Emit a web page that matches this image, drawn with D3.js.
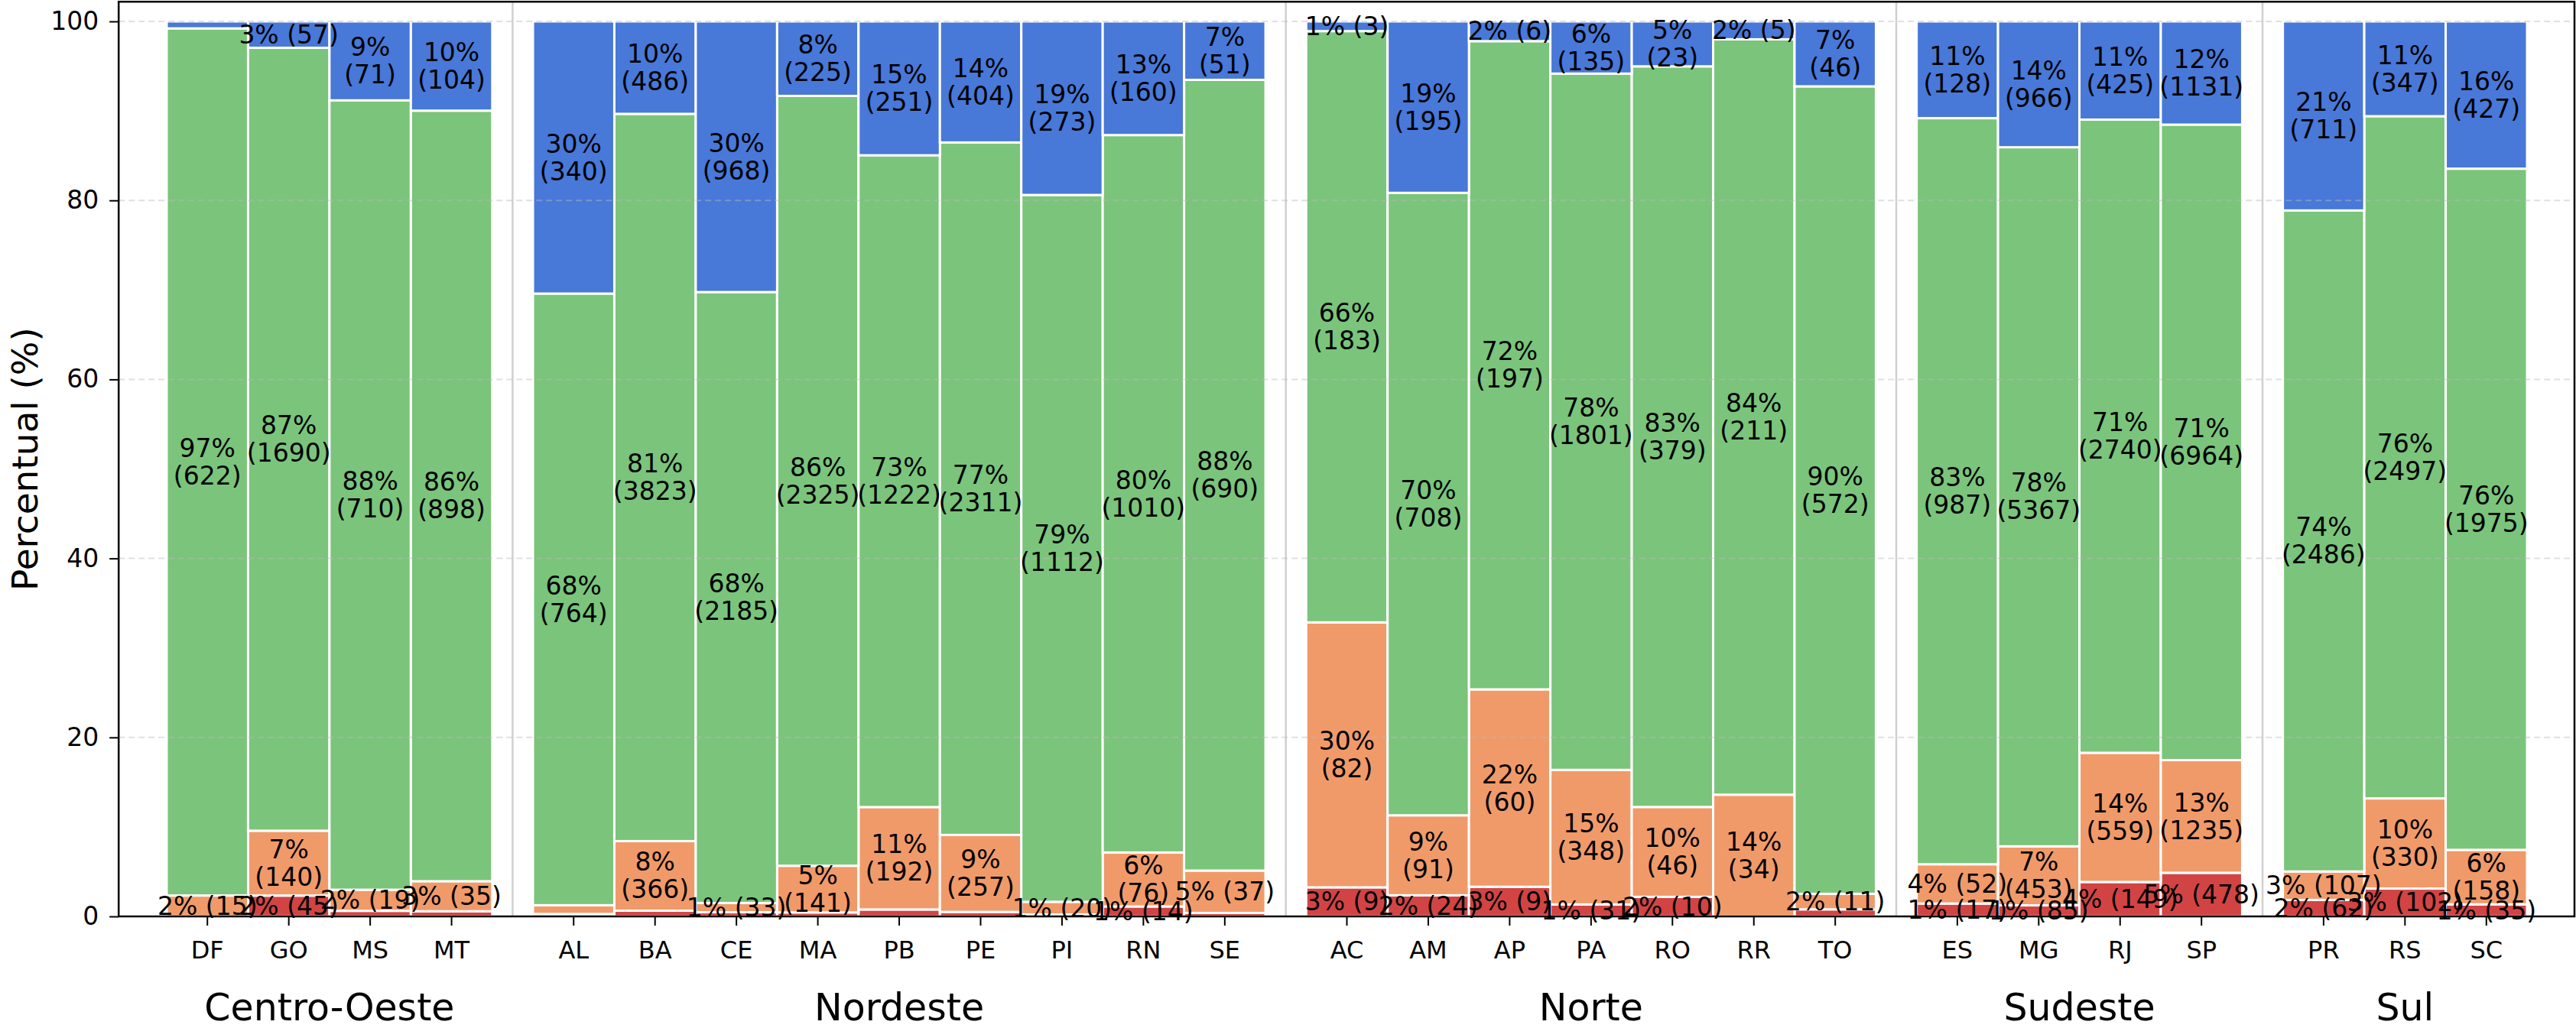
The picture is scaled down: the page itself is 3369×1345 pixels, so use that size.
<!DOCTYPE html>
<html><head><meta charset="utf-8">
<script src="https://cdn.jsdelivr.net/npm/d3@7"></script>
<style>body{margin:0;background:#fff}svg{display:block}</style>
</head><body>
<svg id="chart" width="3369" height="1345"></svg>
<script>
// ---------- data ----------
const regions = ["Centro-Oeste", "Nordeste", "Norte", "Sudeste", "Sul"];
const regionStates = [
  ["DF", "GO", "MS", "MT"],
  ["AL", "BA", "CE", "MA", "PB", "PE", "PI", "RN", "SE"],
  ["AC", "AM", "AP", "PA", "RO", "RR", "TO"],
  ["ES", "MG", "RJ", "SP"],
  ["PR", "RS", "SC"]
];
// counts in state order DF..MT, AL..SE, AC..TO, ES..SP, PR..SC
const redCounts    = [0, 45, 5, 6,   3, 30, 15, 12, 13, 15, 3, 14, 3,   9, 24, 9, 31, 10, 0, 5,   17, 85, 149, 478,   62, 102, 35];
const orangeCounts = [15, 140, 19, 35,   11, 366, 33, 141, 192, 257, 20, 76, 37,   82, 91, 60, 348, 46, 34, 11,   52, 453, 559, 1235,   107, 330, 158];
const greenCounts  = [622, 1690, 710, 898,   764, 3823, 2185, 2325, 1222, 2311, 1112, 1010, 690,   183, 708, 197, 1801, 379, 211, 572,   987, 5367, 2740, 6964,   2486, 2497, 1975];
const blueCounts   = [5, 57, 71, 104,   340, 486, 968, 225, 251, 404, 273, 160, 51,   3, 195, 6, 135, 23, 5, 46,   128, 966, 425, 1131,   711, 347, 427];
const seriesColors = ["#d24444", "#f09a6a", "#7bc47b", "#4878d8"];
const yTicks = [0, 20, 40, 60, 80, 100];
const yLabel = "Percentual (%)";

// ---------- build rows ----------
const series = [redCounts, orangeCounts, greenCounts, blueCounts];
const rows = [];
let k = 0;
regionStates.forEach((sts, g) => {
  sts.forEach(s => {
    const vals = series.map(a => a[k]);
    const total = d3.sum(vals);
    rows.push({state: s, group: g, pos: k + 0.5 * g, vals, total});
    k++;
  });
});

// ---------- scales ----------
const svg = d3.select("#chart");
const x = d3.scaleLinear().domain([0, 29]).range([218, 3305]);
const y = d3.scaleLinear().domain([0, 100]).range([1199, 28]);
const frameL = x(-0.59), frameR = 3367, frameT = y(102.2), frameB = y(0);
const font = "'DejaVu Sans', sans-serif";

// separators between regions
const sepPos = [];
{
  let idx = 0;
  regionStates.forEach((sts, g) => {
    idx += sts.length;
    if (g < regionStates.length - 1) sepPos.push(idx + 0.5 * g + 0.25);
  });
}
svg.append("g").selectAll("line").data(sepPos).join("line")
  .attr("x1", d => x(d)).attr("x2", d => x(d))
  .attr("y1", frameT).attr("y2", frameB)
  .attr("stroke", "#d0d0d0").attr("stroke-width", 2.5);

// stacked segments
const stack = d3.stack().keys([0, 1, 2, 3]).value((d, key) => d.vals[key] / d.total * 100);
const layers = stack(rows);
const segG = svg.append("g");
layers.forEach((layer, si) => {
  segG.append("g").selectAll("rect").data(layer).join("rect")
    .attr("x", d => x(d.data.pos))
    .attr("width", d => x(d.data.pos + 1) - x(d.data.pos))
    .attr("y", d => y(d[1]))
    .attr("height", d => Math.max(0, y(d[0]) - y(d[1])))
    .attr("fill", seriesColors[si])
    .attr("stroke", "#fff").attr("stroke-width", 3);
});

// grid (dashed, over bars)
svg.append("g").selectAll("line").data(yTicks).join("line")
  .attr("x1", frameL).attr("x2", frameR)
  .attr("y1", d => y(d)).attr("y2", d => y(d))
  .attr("stroke", "#bbbbbb").attr("stroke-opacity", 0.45)
  .attr("stroke-width", 2).attr("stroke-dasharray", "8,5");

// labels
const labG = svg.append("g").attr("font-family", font).attr("font-size", 33)
  .attr("text-anchor", "middle").attr("fill", "#000");
layers.forEach((layer, si) => {
  layer.forEach(d => {
    const pct = d[1] - d[0];
    if (pct < 1) return;
    const cnt = d.data.vals[si];
    const cx = x(d.data.pos + 0.5);
    const cy = y((d[0] + d[1]) / 2);
    const p = Math.round(pct) + "%";
    if (pct >= 5) {
      const t = labG.append("text").attr("x", cx).attr("y", cy);
      t.append("tspan").attr("x", cx).attr("dy", -18).attr("dominant-baseline", "central").text(p);
      t.append("tspan").attr("x", cx).attr("dy", 36).attr("dominant-baseline", "central").text("(" + cnt + ")");
    } else {
      labG.append("text").attr("x", cx).attr("y", cy).attr("dominant-baseline", "central")
        .text(p + " (" + cnt + ")");
    }
  });
});

// frame
svg.append("rect").attr("x", frameL).attr("y", frameT)
  .attr("width", frameR - frameL).attr("height", frameB - frameT)
  .attr("fill", "none").attr("stroke", "#000").attr("stroke-width", 2.5);

// y axis
const yAxis = d3.axisLeft(y).tickValues(yTicks).tickSize(12).tickPadding(14);
const ya = svg.append("g").attr("transform", `translate(${frameL},0)`).call(yAxis);
ya.select(".domain").remove();
ya.selectAll("line").attr("stroke-width", 2);
ya.selectAll("text").attr("font-family", font).attr("font-size", 33).attr("fill", "#000");

// x axis ticks
const xa = svg.append("g");
xa.selectAll("line").data(rows).join("line")
  .attr("x1", d => x(d.pos + 0.5)).attr("x2", d => x(d.pos + 0.5))
  .attr("y1", frameB).attr("y2", frameB + 12)
  .attr("stroke", "#000").attr("stroke-width", 2);
xa.selectAll("text").data(rows).join("text")
  .attr("x", d => x(d.pos + 0.5)).attr("y", 1243)
  .attr("text-anchor", "middle").attr("dominant-baseline", "central")
  .attr("font-family", font).attr("font-size", 32).text(d => d.state);

// region labels
svg.append("g").selectAll("text").data(regions).join("text")
  .attr("x", (r, g) => {
    const rs = rows.filter(d => d.group === g);
    return (x(rs[0].pos) + x(rs[rs.length - 1].pos + 1)) / 2;
  })
  .attr("y", 1318).attr("text-anchor", "middle").attr("dominant-baseline", "central")
  .attr("font-family", font).attr("font-size", 49).text(d => d);

// y label
svg.append("text").attr("transform", `translate(32,${(frameT + frameB) / 2}) rotate(-90)`)
  .attr("text-anchor", "middle").attr("dominant-baseline", "central")
  .attr("font-family", font).attr("font-size", 47).text(yLabel);
</script>
</body></html>
